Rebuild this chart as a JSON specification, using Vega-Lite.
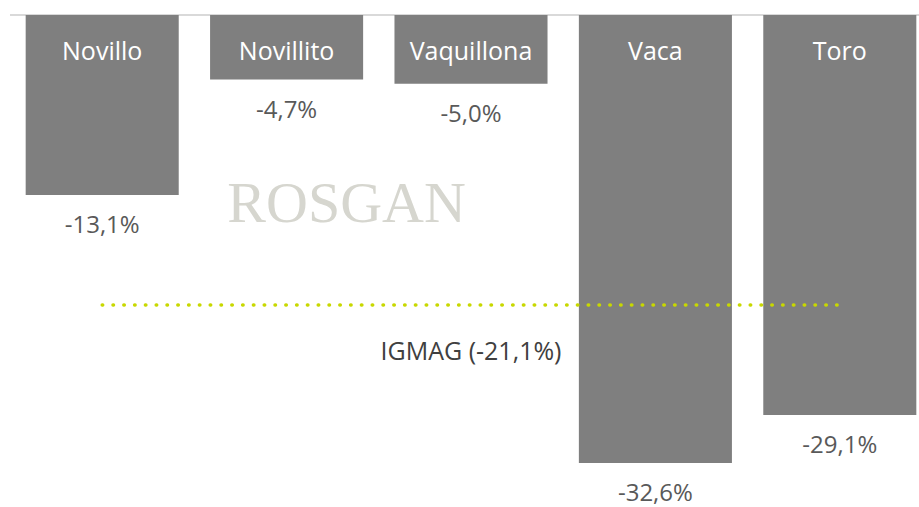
{
  "$schema": "https://vega.github.io/schema/vega-lite/v6.json",
  "autosize": {"type": "none"},
  "width": 922,
  "height": 481,
  "padding": {"left": 10, "top": 15, "right": 0, "bottom": 11},
  "background": "white",
  "config": {"view": {"stroke": null}},
  "datasets": {
    "bars": [
      {"category": "Novillo", "value": -13.1, "label": "-13,1%"},
      {"category": "Novillito", "value": -4.7, "label": "-4,7%"},
      {"category": "Vaquillona", "value": -5.0, "label": "-5,0%"},
      {"category": "Vaca", "value": -32.6, "label": "-32,6%"},
      {"category": "Toro", "value": -29.1, "label": "-29,1%"}
    ],
    "ref": [
      {"start": "Novillo", "end": "Toro", "at": "Vaquillona", "value": -21.1, "label": "IGMAG (-21,1%)"}
    ]
  },
  "encoding": {
    "x": {"field": "category", "type": "nominal", "sort": null,
      "scale": {"domain": ["Novillo", "Novillito", "Vaquillona", "Vaca", "Toro"], "paddingInner": 0.17, "paddingOuter": 0.085},
      "axis": null}
  },
  "layer": [
    {
      "data": {"name": "bars"},
      "mark": {"type": "rule", "color": "#d9d9d9", "strokeWidth": 1.5},
      "encoding": {"x": null, "y": {"datum": 0, "type": "quantitative", "scale": {"domain": [-35, 0], "nice": false}, "axis": null}}
    },
    {
      "data": {"name": "bars"},
      "mark": {"type": "bar", "color": "#7f7f7f"},
      "encoding": {
        "y": {"field": "value", "type": "quantitative", "scale": {"domain": [-35, 0], "nice": false}, "axis": null},
        "y2": {"datum": 0}
      }
    },
    {
      "data": {"name": "bars"},
      "mark": {"type": "text", "color": "#ffffff", "font": "Open Sans", "fontSize": 25, "fontWeight": 500, "baseline": "middle", "dy": 37},
      "encoding": {
        "y": {"datum": 0, "type": "quantitative"},
        "text": {"field": "category"}
      }
    },
    {
      "data": {"name": "bars"},
      "mark": {"type": "text", "color": "#595959", "font": "Open Sans", "fontSize": 24, "baseline": "middle", "dy": 31},
      "encoding": {
        "y": {"field": "value", "type": "quantitative"},
        "text": {"field": "label"}
      }
    },
    {
      "data": {"name": "ref"},
      "mark": {"type": "text", "text": "ROSGAN", "color": "#d6d6cf", "font": "Liberation Serif", "fontSize": 58, "baseline": "middle", "dx": 60},
      "encoding": {
        "x": {"datum": "Novillito"},
        "y": {"datum": -13.8, "type": "quantitative"}
      }
    },
    {
      "data": {"name": "ref"},
      "mark": {"type": "rule", "color": "#c8d800", "strokeWidth": 3.5, "strokeCap": "round", "strokeDash": [0.5, 10.3]},
      "encoding": {
        "x": {"field": "start", "type": "nominal", "bandPosition": 0.5},
        "x2": {"field": "end"},
        "y": {"field": "value", "type": "quantitative"}
      }
    },
    {
      "data": {"name": "ref"},
      "mark": {"type": "text", "color": "#404040", "font": "Open Sans", "fontSize": 25, "baseline": "middle", "dy": 47},
      "encoding": {
        "x": {"field": "at", "type": "nominal"},
        "y": {"field": "value", "type": "quantitative"},
        "text": {"field": "label"}
      }
    }
  ]
}
